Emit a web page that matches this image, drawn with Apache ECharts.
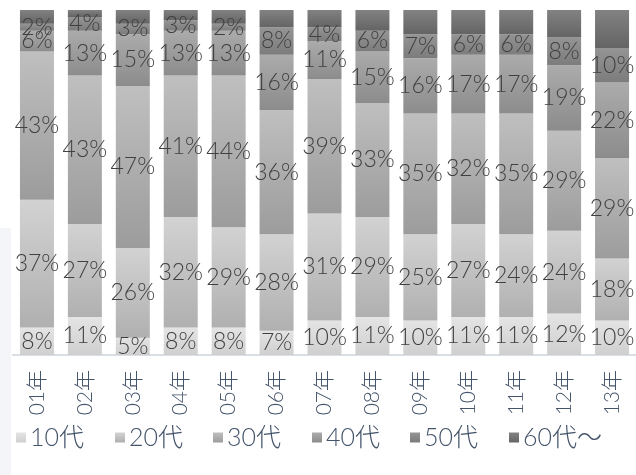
<!DOCTYPE html>
<html>
<head>
<meta charset="utf-8">
<script src="https://cdn.jsdelivr.net/npm/echarts@6/dist/echarts.min.js"></script>
<style>
html,body{margin:0;padding:0;background:#fff;}
#c{width:636px;height:475px;}
</style>
</head>
<body>
<div id="c"></div>
<script>
const categories = ['01年','02年','03年','04年','05年','06年','07年','08年','09年','10年','11年','12年','13年'];
const seriesNames = ['10代','20代','30代','40代','50代','60代～'];
const teens   = [8, 11, 5, 8, 8, 7, 10, 11, 10, 11, 11, 12, 10];
const twenties= [37, 27, 26, 32, 29, 28, 31, 29, 25, 27, 24, 24, 18];
const thirties= [43, 43, 47, 41, 44, 36, 39, 33, 35, 32, 35, 29, 29];
const forties = [6, 13, 15, 13, 13, 16, 11, 15, 16, 17, 17, 19, 22];
const fifties = [2, 4, 3, 3, 2, 8, 4, 6, 7, 6, 6, 8, 10];
const sixties = [4, 2, 4, 3, 4, 5, 5, 6, 7, 7, 7, 8, 11];

const values = [teens, twenties, thirties, forties, fifties, sixties];
const gradTop = ['#e4e4e4','#d2d2d2','#bfbfbf','#ababab','#949494','#828282'];
const gradBot = ['#cfcfcf','#b0b0b0','#9c9c9c','#8c8c8c','#7c7c7c','#646464'];
const FONT = "Lato, 'Noto Sans CJK JP', sans-serif";

const chart = echarts.init(document.getElementById('c'), null, {renderer:'canvas'});
const series = values.map((d, i) => ({
  name: seriesNames[i],
  type: 'bar',
  stack: 'total',
  data: d,
  barWidth: 34,
  itemStyle: {
    color: new echarts.graphic.LinearGradient(0,0,0,1,[
      {offset:0, color: gradTop[i]},
      {offset:1, color: gradBot[i]}
    ])
  },
  label: {
    show: i < 5,
    position: 'inside',
    formatter: p => p.value + '%',
    color: '#404040',
    fontSize: 23,
    fontWeight: 300,
    fontFamily: FONT
  },
  emphasis: {disabled: true}
}));

const legendLeft = [16, 115, 213, 312, 410, 509];
const legends = seriesNames.map((n, i) => ({
  left: legendLeft[i], top: 425, padding: 0,
  itemWidth: 10, itemHeight: 10,
  icon: 'rect',
  textStyle: {color: '#44546a', fontSize: 25, fontWeight: 300, fontFamily: FONT, padding: [0,0,0,-1]},
  data: [n]
}));

chart.setOption({
  animation: false,
  backgroundColor: '#ffffff',
  graphic: [{
    type: 'rect', left: 0, top: 228, z: -10,
    shape: {width: 11, height: 247},
    style: {fill: '#f3f5f8'}
  }],
  grid: {left: 13, right: -1, top: 10, bottom: 120, containLabel: false},
  legend: legends,
  xAxis: {
    type: 'category',
    data: categories,
    axisLine: {show: true, lineStyle: {color: '#d9dee5', width: 2}},
    axisTick: {show: false},
    axisLabel: {rotate: 90, margin: 15, color: '#44546a', fontSize: 21, fontWeight: 300, fontFamily: FONT, interval: 0}
  },
  yAxis: {
    type: 'value', min: 0, max: 100, interval: 20,
    show: false
  },
  series: series
});
</script>
</body>
</html>
